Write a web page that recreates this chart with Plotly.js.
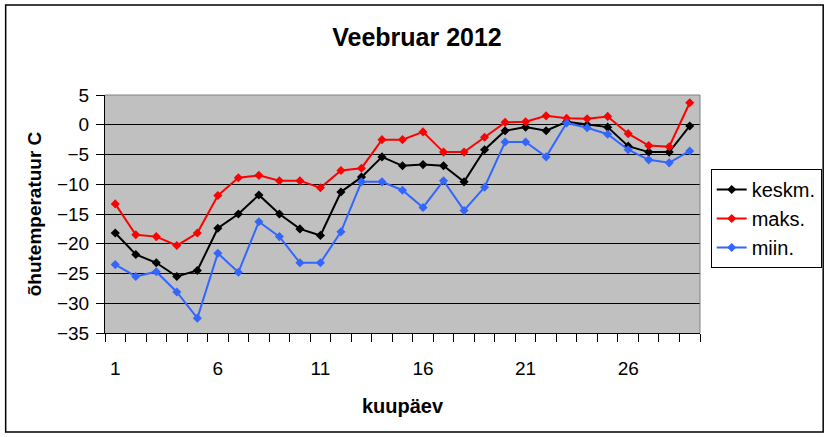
<!DOCTYPE html>
<html>
<head>
<meta charset="utf-8">
<script src="https://cdn.plot.ly/plotly-3.0.1.min.js"></script>
<style>html,body{margin:0;padding:0;background:#fff}#chart{width:834px;height:437px}</style>
</head>
<body>
<div id="chart"></div>
<script>
const days = [1,2,3,4,5,6,7,8,9,10,11,12,13,14,15,16,17,18,19,20,21,22,23,24,25,26,27,28,29];
const keskm = [-18.2,-21.8,-23.2,-25.5,-24.5,-17.4,-15.0,-11.8,-15.0,-17.5,-18.6,-11.3,-8.8,-5.4,-6.9,-6.7,-6.9,-9.6,-4.2,-1.0,-0.4,-1.0,0.5,0.0,-0.4,-3.6,-4.6,-4.6,-0.2];
const maks = [-13.3,-18.5,-18.8,-20.3,-18.2,-11.9,-8.9,-8.5,-9.4,-9.4,-10.6,-7.7,-7.3,-2.5,-2.5,-1.2,-4.6,-4.6,-2.1,0.4,0.5,1.5,1.1,1.0,1.4,-1.5,-3.5,-3.7,3.7];
const miin = [-23.5,-25.5,-24.7,-28.1,-32.5,-21.6,-24.8,-16.3,-18.8,-23.2,-23.2,-18.0,-9.6,-9.6,-11.0,-13.9,-9.4,-14.4,-10.5,-2.9,-2.9,-5.4,0.3,-0.5,-1.6,-4.2,-5.9,-6.4,-4.4];
const xTickVals = [1,6,11,16,21,26];
const yTickVals = [5,0,-5,-10,-15,-20,-25,-30,-35];
const seriesNames = ['keskm.','maks.','miin.'];
const seriesColors = ['#000000','#ff0000','#3366ff'];

const FONT = 'Arial, "Liberation Sans", sans-serif';
const data = [keskm, maks, miin].map((ys, i) => ({
  x: days, y: ys, type: 'scatter', mode: 'lines+markers', name: seriesNames[i],
  line: {color: seriesColors[i], width: 2},
  marker: {symbol: 'diamond', size: 7, color: seriesColors[i]}
}));

const layout = {
  width: 834, height: 437,
  margin: {l: 105, r: 130, t: 95, b: 104},
  paper_bgcolor: '#ffffff', plot_bgcolor: '#c0c0c0',
  font: {family: FONT, color: '#000', size: 18},
  title: {text: '<b>Veebruar 2012</b>', font: {family: FONT, size: 25, color: '#000'},
          x: 0.5, xref: 'container', y: 1 - 37/437, yref: 'container', yanchor: 'middle'},
  xaxis: {
    range: [0.5, 29.5], tickvals: xTickVals, ticks: '', showgrid: false, zeroline: false,
    showline: true, linecolor: '#000', linewidth: 1, ticklabelstandoff: 18,
    tickfont: {family: FONT, size: 19},
    minor: {tick0: 0.5, dtick: 1, ticks: 'outside', ticklen: 8, tickcolor: '#000', showgrid: false},
    title: {text: '<b>kuupäev</b>', font: {family: FONT, size: 20}, standoff: 21}
  },
  yaxis: {
    range: [-35, 5], tickvals: yTickVals, ticks: 'outside', ticklen: 8, tickcolor: '#000',
    showgrid: true, gridcolor: '#000', gridwidth: 1, zeroline: false,
    showline: true, linecolor: '#000', linewidth: 1, ticklabelstandoff: 3,
    tickfont: {family: FONT, size: 19},
    title: {text: '<b>õhutemperatuur C</b>', font: {family: FONT, size: 19}, standoff: 10}
  },
  legend: {x: 1.018, xanchor: 'left', y: 0.689, yanchor: 'top', bgcolor: '#fff',
           bordercolor: '#000', borderwidth: 1, font: {family: FONT, size: 20}, tracegroupgap: 0},
  showlegend: true,
  shapes: [
    {type: 'path', xref: 'paper', yref: 'paper', path: 'M 0,1 L 1,1 L 1,0',
     line: {color: '#808080', width: 1}, layer: 'above'},
    {type: 'rect', xref: 'paper', yref: 'paper', x0: (5-105)/599, x1: (828-105)/599,
     y0: (333-432)/238, y1: (333-5)/238, line: {color: '#000', width: 1.5}, fillcolor: 'rgba(0,0,0,0)'}
  ]
};

Plotly.newPlot('chart', data, layout, {displayModeBar: false, staticPlot: true});
</script>
</body>
</html>
